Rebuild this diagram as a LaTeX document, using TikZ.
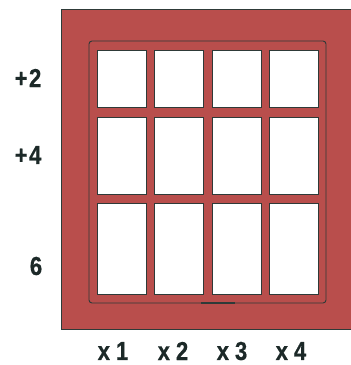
\documentclass[tikz,border=0pt]{standalone}
\usepackage{fontspec}
\newfontfamily\lblfont[FakeStretch=0.85, FakeBold=0.6]{Liberation Sans}
\definecolor{frameRed}{HTML}{B94E4C}
\definecolor{lineDark}{HTML}{2E3A38}
\definecolor{txtDark}{HTML}{1C2928}
\tikzset{
  paneline/.style={draw=lineDark, line width=0.9pt, fill=white},
  sizelabel/.style={font=\lblfont\bfseries\fontsize{26}{26}\selectfont, text=txtDark, inner sep=0pt}
}
\begin{document}
\begin{tikzpicture}[x=1pt, y=-1pt]
\useasboundingbox (0,0) rectangle (351,365);
% Frame (red backing, runs off right edge)
\fill[frameRed] (61,9) rectangle (352,329);
\draw[lineDark, line width=0.8pt] (352,9) -- (61,9) -- (61,329) -- (352,329);

% Sash outline
\draw[lineDark, line width=0.9pt, rounded corners=3pt] (89,41) rectangle (326,303);
\draw[lineDark, line width=2pt] (201,303) -- (235,303);

% Panes: 4 columns x 3 rows (hardcoded row heights)
\foreach \xl in {97,154.5,212,269}{
  \draw[paneline] (\xl,50) rectangle ++(49,57);
  \draw[paneline] (\xl,117) rectangle ++(49,77);
  \draw[paneline] (\xl,203) rectangle ++(49,91);
}

% Row labels
\node[sizelabel] (rowA) at (28,78) {+\kern1.5pt2};
\node[sizelabel] (rowB) at (28,155) {+\kern1.5pt4};
\node[sizelabel] (rowC) at (36,266) {6};

% Column labels
\node[sizelabel] (colA) at (113,351) {x\kern6pt1};
\node[sizelabel] (colB) at (173,351) {x\kern6pt2};
\node[sizelabel] (colC) at (232,351) {x\kern6pt3};
\node[sizelabel] (colD) at (291,351) {x\kern6pt4};
\end{tikzpicture}
\end{document}
